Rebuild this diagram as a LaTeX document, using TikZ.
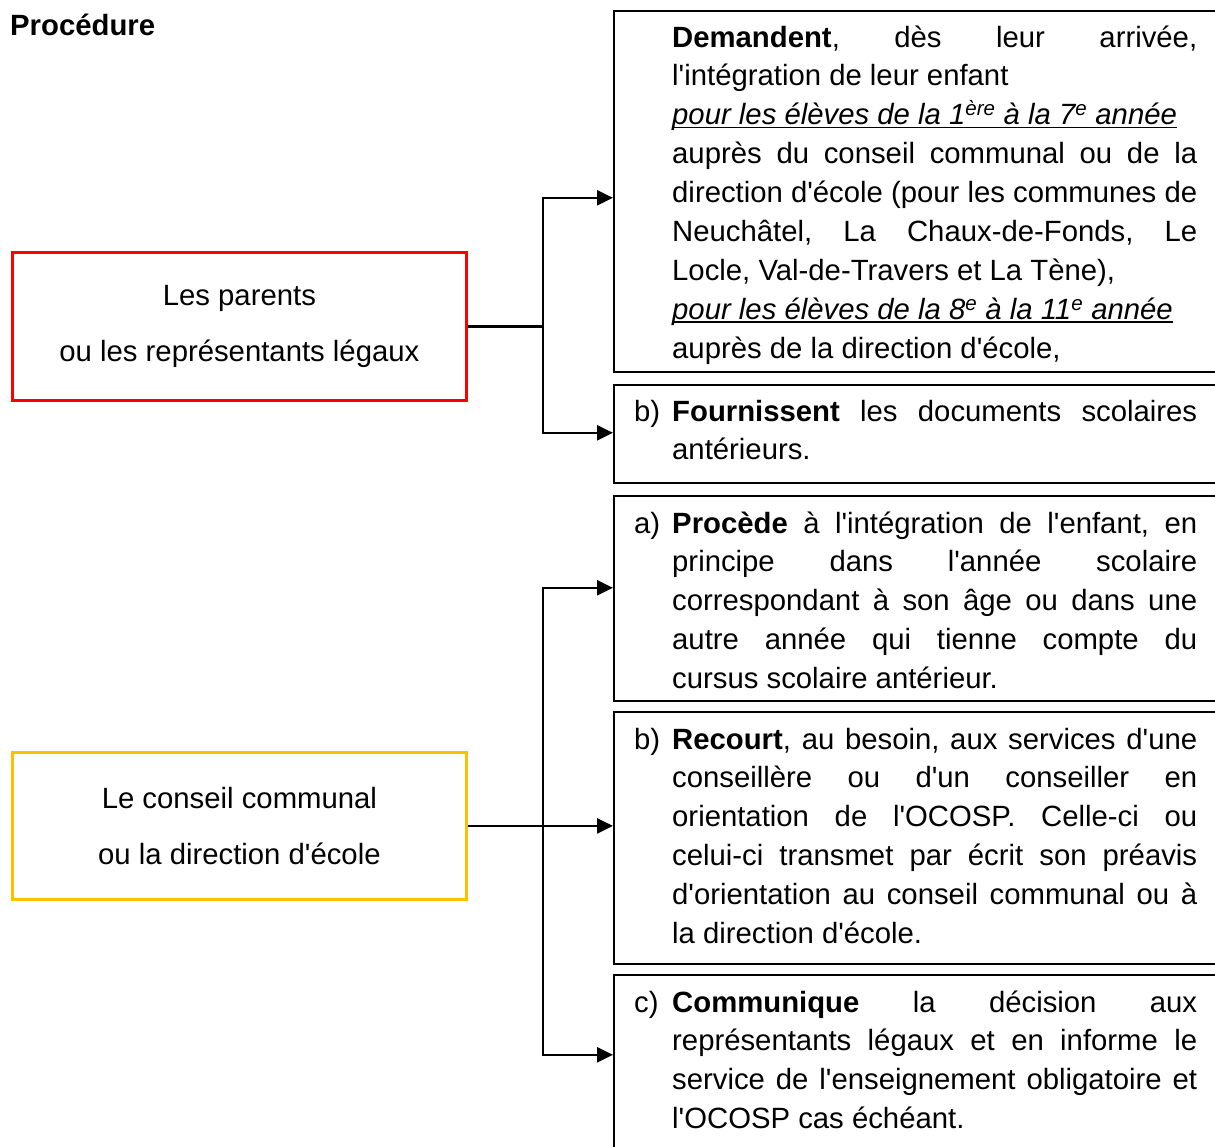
\documentclass[tikz,border=0pt]{standalone}
\usepackage{fontspec}
\setmainfont{Liberation Sans}[Ligatures=TeXOff]
\usetikzlibrary{arrows.meta}
\newcommand\jl[1]{\hbox to 525pt{\frenchspacing\spaceskip=0.278em plus 1fil minus 0.06em\relax #1}}
\newcommand\rl[1]{\hbox to 525pt{\frenchspacing\spaceskip=0.278em minus 0.06em\relax #1\hfil}}
\newcommand\lab[1]{\llap{\hbox to 38pt{#1\hfil}}}
\newcommand\ulx[1]{\setbox0\hbox{#1}\rlap{\rule[-3.5pt]{\wd0}{1.4pt}}\box0}
\definecolor{ored}{HTML}{FF0000}
\definecolor{oyel}{HTML}{FFC000}
\tikzset{
  stepbox/.style={draw=black, line width=1.6pt, anchor=north west, inner sep=0pt, minimum width=640pt},
  actor/.style={line width=2.8pt, anchor=north west, minimum width=454pt, align=center, font=\fontsize{29.3}{55.5}\selectfont},
  txt/.style={inner sep=0pt, anchor=base west, font=\fontsize{29.3}{38.9}\selectfont},
  conn/.style={draw=black, line width=2.4pt},
  arr/.style={conn, -{Triangle[length=16pt,width=15pt]}},
}
\begin{document}
\begin{tikzpicture}[x=1pt,y=-1pt]
\useasboundingbox (0,0) rectangle (1215,1146);
\clip (0,0) rectangle (1215,1146);
\fill[white] (0,0) rectangle (1215,1146);

\node[txt, font=\fontsize{29.3}{38.9}\selectfont\bfseries] (title) at (10,35) {Procédure};

% actors
\node[actor, draw=ored, minimum height=148pt] (parents) at (11,251) {Les parents\\ou les représentants légaux};
\node[actor, draw=oyel, minimum height=147pt] (council) at (11,751) {Le conseil communal\\ou la direction d'école};

% step boxes
\node[stepbox, minimum height=361pt] (b1) at (613,10) {};
\node[stepbox, minimum height=98pt] (b2) at (613,384) {};
\node[stepbox, minimum height=205pt] (b3) at (613,495) {};
\node[stepbox, minimum height=252pt] (b4) at (613,711) {};
\node[stepbox, minimum height=190pt] (b5) at (613,974) {};

% texts
\node[txt] (t1) at (672,47) {\vtop{%
\jl{\textbf{Demandent}, dès leur arrivée,}
\rl{l'intégration de leur enfant}
\rl{\ulx{\itshape pour les élèves de la 1\textsuperscript{ère} à la 7\textsuperscript{e} année}}
\jl{auprès du conseil communal ou de la}
\jl{direction d'école (pour les communes de}
\jl{Neuchâtel, La Chaux-de-Fonds, Le}
\rl{Locle, Val-de-Travers et La Tène),}
\rl{\ulx{\itshape pour les élèves de la 8\textsuperscript{e} à la 11\textsuperscript{e} année}}
\rl{auprès de la direction d'école,}}};

\node[txt] (t2) at (672,421) {\vtop{%
\jl{\lab{b)}\textbf{Fournissent} les documents scolaires}
\rl{antérieurs.}}};

\node[txt] (t3) at (672,533) {\vtop{%
\jl{\lab{a)}\textbf{Procède} à l'intégration de l'enfant, en}
\jl{principe dans l'année scolaire}
\jl{correspondant à son âge ou dans une}
\jl{autre année qui tienne compte du}
\rl{cursus scolaire antérieur.}}};

\node[txt] (t4) at (672,749) {\vtop{%
\jl{\lab{b)}\textbf{Recourt}, au besoin, aux services d'une}
\jl{conseillère ou d'un conseiller en}
\jl{orientation de l'OCOSP. Celle-ci ou}
\jl{celui-ci transmet par écrit son préavis}
\jl{d'orientation au conseil communal ou à}
\rl{la direction d'école.}}};

\node[txt] (t5) at (672,1012) {\vtop{%
\jl{\lab{c)}\textbf{Communique} la décision aux}
\jl{représentants légaux et en informe le}
\jl{service de l'enseignement obligatoire et}
\rl{l'OCOSP cas échéant.}}};

% connectors
\coordinate (j1) at ([xshift=75pt]parents.east);
\coordinate (j2) at ([xshift=75pt]council.east);
\draw[conn] (parents.east) -- (j1);
\draw[arr] (j1) |- ([yshift=-6.5pt]b1.west);
\draw[arr] (j1) |- ([yshift=1pt]b2.west);
\draw[arr] (council.east) -- (council.east -| b4.west);
\draw[arr] (j2) |- ([yshift=10.5pt]b3.west);
\draw[arr] (j2) |- ([yshift=15pt]b5.west);
\end{tikzpicture}
\end{document}
